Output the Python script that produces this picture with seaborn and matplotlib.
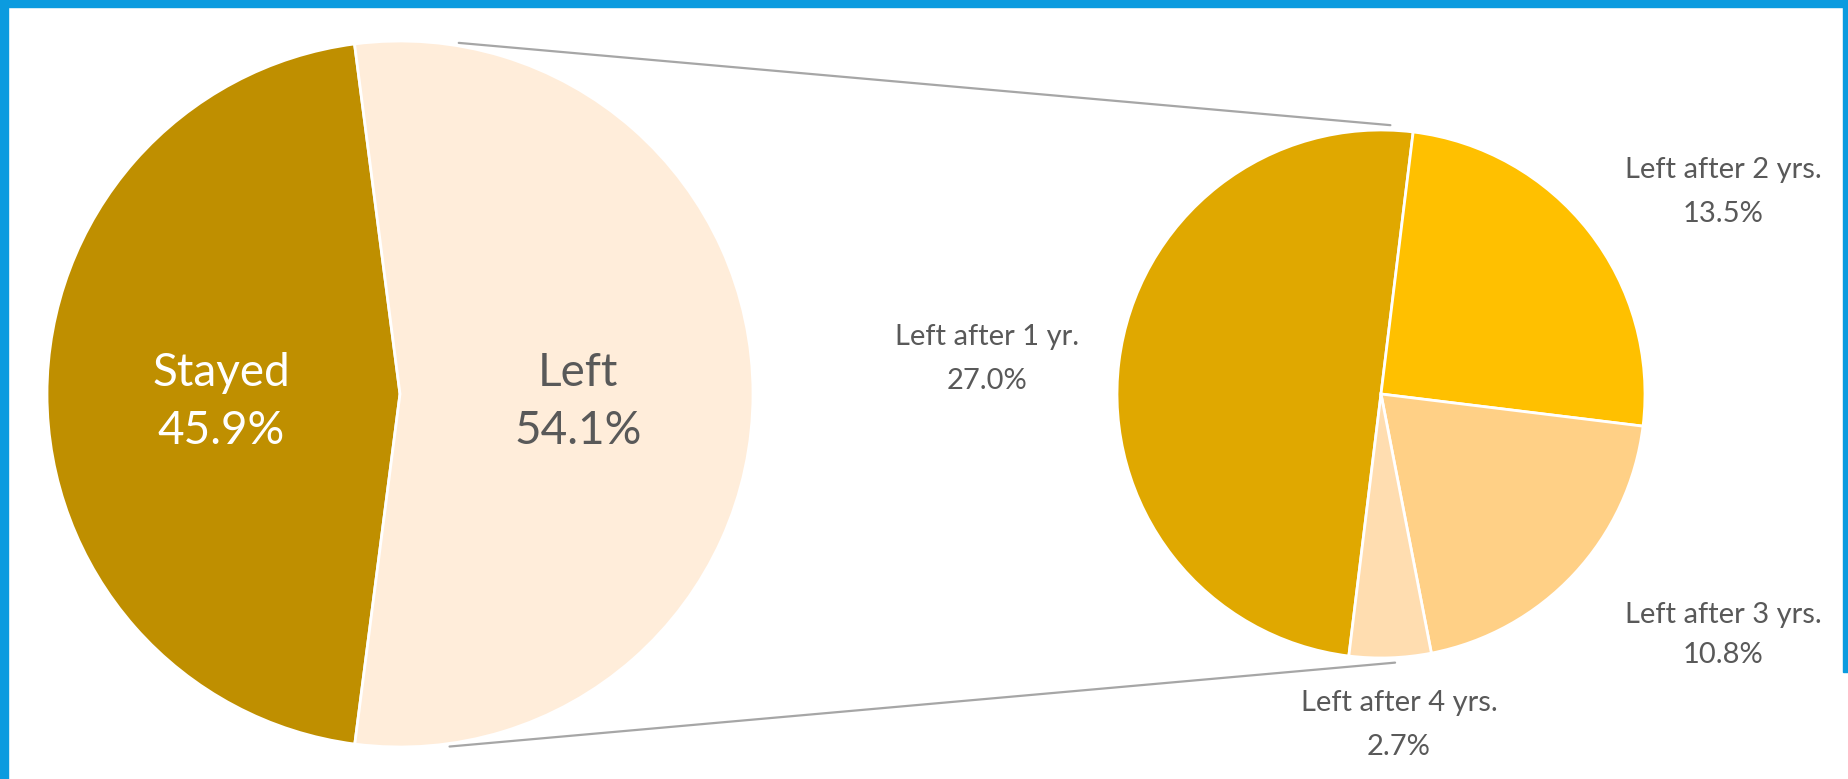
import numpy as np
import matplotlib.pyplot as plt
import seaborn as sns
from matplotlib.patches import Rectangle

# data: share of staff who stayed / left, and when the leavers left
main_labels = ['Stayed', 'Left']
main_values = [45.9, 54.1]
detail_labels = ['Left after 1 yr.', 'Left after 2 yrs.', 'Left after 3 yrs.', 'Left after 4 yrs.']
detail_values = [27.0, 13.5, 10.8, 2.7]

main_colors = ['#BF8F00', '#FFEDDA']
detail_colors = ['#E0A800', '#FFC000', '#FFD086', '#FFDDB0']
text_grey = '#595959'

sns.set_theme(style='white')
plt.rcParams['font.family'] = ['Lato', 'DejaVu Sans']

W, H = 1849, 779
fig = plt.figure(figsize=(W / 100, H / 100), dpi=100)
ax = fig.add_axes([0, 0, 1, 1])

# pie geometry in pixel units (y measured from the top)
main_c, main_r = (400, 394), 353
det_c, det_r = (1381, 394), 264

def flip(p):
    return (p[0], H - p[1])

edge = dict(edgecolor='white', linewidth=2)
ax.pie(main_values, colors=main_colors, startangle=97.4, counterclock=True,
       center=flip(main_c), radius=main_r, wedgeprops=edge, frame=True)
ax.pie(detail_values, colors=detail_colors, startangle=263, counterclock=False,
       center=flip(det_c), radius=det_r, wedgeprops=edge, frame=True)

# connector lines between the two pies
def on_circle(c, r, deg):
    a = np.deg2rad(deg)
    return c[0] + r * np.cos(a), H - c[1] + r * np.sin(a)

for a_main, a_det in [(80.5, 88), (-82, -87)]:
    x0, y0 = on_circle(main_c, main_r + 3, a_main)
    x1, y1 = on_circle(det_c, det_r + 5, a_det)
    ax.plot([x0, x1], [y0, y1], color='#A6A6A6', lw=1.6, solid_capstyle='round')

# labels: (x centre, name baseline, pct baseline, colour)
main_text = [(221, 386, 444, 'white'), (578, 386, 444, text_grey)]
for (x, yb1, yb2, col), name, val in zip(main_text, main_labels, main_values):
    ax.text(x, H - yb1, name, ha='center', va='baseline', fontsize=33, color=col)
    ax.text(x, H - yb2, f'{val:.1f}%', ha='center', va='baseline', fontsize=33, color=col)

det_text = [(987, 345, 389), (1723, 178, 222), (1723, 623, 663), (1399, 711, 755)]
for (x, yb1, yb2), name, val in zip(det_text, detail_labels, detail_values):
    ax.text(x, H - yb1, name, ha='center', va='baseline', fontsize=21, color=text_grey)
    ax.text(x, H - yb2, f'{val:.1f}%', ha='center', va='baseline', fontsize=21, color=text_grey)

ax.set_xlim(0, W)
ax.set_ylim(0, H)
ax.set_aspect('equal')
ax.axis('off')

# blue frame around the slide
blue = '#0B9BDF'
fig.patches.append(Rectangle((0, 1 - 7 / H), 1, 7 / H, transform=fig.transFigure, color=blue))
fig.patches.append(Rectangle((0, 0), 8 / W, 1, transform=fig.transFigure, color=blue))
fig.patches.append(Rectangle((1 - 6 / W, (H - 672) / H), 6 / W, 672 / H, transform=fig.transFigure, color=blue))

fig.savefig('out.png', dpi=100, facecolor='white')
